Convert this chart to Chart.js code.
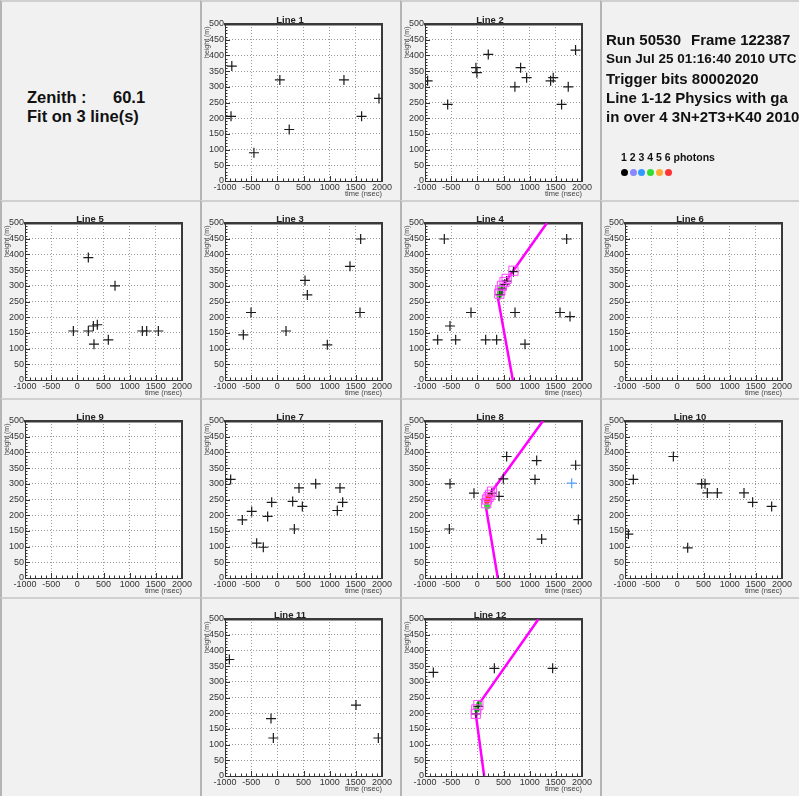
<!DOCTYPE html>
<html><head><meta charset="utf-8">
<script src="https://cdn.jsdelivr.net/npm/chart.js@4.4.0/dist/chart.umd.min.js"></script>
<style>
body{margin:0;background:#fff;width:799px;height:796px;position:relative;overflow:hidden;font-family:"Liberation Sans",Arial,sans-serif;}
.cell{position:absolute;background:#f1f1f1;box-sizing:border-box;border-left:2px solid #b4b4b4;border-top:2px solid #d0d0d0;}
canvas{position:absolute}
.ptitle{position:absolute;font:bold 9.5px "Liberation Sans",Arial,sans-serif;color:#222;transform:translateX(-50%);white-space:nowrap;}
.ytitle{position:absolute;font:7px "Liberation Sans",Arial,sans-serif;color:#444;transform-origin:0 0;transform:rotate(-90deg);white-space:nowrap;}
.xtitle{position:absolute;font:7.5px "Liberation Sans",Arial,sans-serif;color:#444;white-space:nowrap;transform:translateX(-100%);}
.big{position:absolute;font-weight:bold;color:#111;white-space:nowrap;}
.dot{position:absolute;width:7px;height:7px;border-radius:50%;}
</style></head><body>
<div id="root"></div>
<script>
// ---------- data (time in nsec, height in m) ----------
const xTicks = [-1000, -500, 0, 500, 1000, 1500, 2000];
const yTicks = [0, 50, 100, 150, 200, 250, 300, 350, 400, 450, 500];

const line1Time   = [-870, -885, -447, 48, 227, 1273, 1610, 1942];
const line1Height = [366, 206, 90, 322, 164, 322, 206, 263];

const line2Time   = [-950, -567, -27, -8, 209, 718, 827, 942, 1400, 1450, 1610, 1737, 1877];
const line2Height = [319, 244, 361, 345, 403, 300, 361, 329, 319, 329, 244, 300, 417];

const line5Time   = [210, 720, -76, 210, 306, 382, 318, 592, 1242, 1325, 1548];
const line5Height = [390, 300, 156, 156, 172, 176, 114, 128, 156, 156, 156];

const line3Time   = [1592, 1388, 529, 573, -503, -650, 166, 955, 1580];
const line3Height = [449, 362, 317, 271, 215, 144, 156, 112, 215];

const line4Time   = [-631, 1707, -758, -522, -414, -121, 159, 369, 720, 911, 1580, 1771, 430, 470, 520, 560, 690];
const line4Height = [449, 449, 128, 172, 128, 215, 128, 128, 215, 114, 215, 202, 272, 290, 305, 315, 345];
const line4SquareTime   = [420, 440, 470, 520, 560, 690];
const line4SquareHeight = [275, 285, 300, 312, 322, 348];
const line4GreenTime    = [425, 440, 455];
const line4GreenHeight  = [270, 282, 292];
const line4FitTime   = [678, 392, 402, 450, 1330];
const line4FitHeight = [0, 262, 279, 292, 500];

const line6Time = [];
const line6Height = [];

const line9Time = [];
const line9Height = [];

const line7Time   = [-892, -669, -490, -395, -268, -185, -108, 293, 325, 414, 478, 733, 1197, 1146, 1248];
const line7Height = [314, 185, 212, 111, 98, 196, 241, 244, 156, 287, 228, 300, 287, 215, 241];

const line8Time   = [-522, -535, -64, 560, 1134, 1879, 1930, 1229, 1102, 496, 414, 273];
const line8Height = [300, 156, 270, 387, 374, 359, 186, 124, 314, 316, 260, 270];
const line8BlueTime   = [1803];
const line8BlueHeight = [302];
const line8SquareTime   = [170, 185, 215, 245, 280];
const line8SquareHeight = [238, 250, 258, 265, 275];
const line8RedTime    = [185, 205, 225, 250];
const line8RedHeight  = [245, 252, 258, 265];
const line8GreenTime  = [190];
const line8GreenHeight = [228];
const line8FitTime   = [391, 160, 165, 200, 1253];
const line8FitHeight = [0, 230, 248, 258, 500];

const line10Time   = [-936, -841, -76, 198, 465, 529, 573, 764, 1274, 1439, 1802];
const line10Height = [140, 314, 387, 96, 300, 300, 271, 271, 271, 241, 228];

const line11Time   = [-917, -121, -76, 1503, 1930];
const line11Height = [371, 183, 121, 226, 121];

const line12Time   = [-841, 325, 1439, -27, 15];
const line12Height = [330, 343, 343, 198, 222];
const line12SquareTime   = [-30, -20, 20];
const line12SquareHeight = [198, 212, 226];
const line12GreenTime    = [-10, 30];
const line12GreenHeight  = [212, 228];
const line12FitTime   = [130, -25, -20, 30, 1170];
const line12FitHeight = [0, 192, 210, 229, 500];

// ---------- layout ----------
const colX = [0, 200, 400, 600];
const rowY = [0, 200, 398, 597];
const rowH = [200, 198, 199, 199];
const plotTop = [24, 223, 421, 619];

const root = document.getElementById('root');
for (let r = 0; r < 4; r++) for (let c = 0; c < 4; c++) {
  const d = document.createElement('div');
  d.className = 'cell';
  d.style.left = colX[c] + 'px'; d.style.top = rowY[r] + 'px';
  d.style.width = (c === 3 ? 199 : 200) + 'px'; d.style.height = rowH[r] + 'px';
  root.appendChild(d);
}

function pts(t, h) { return t.map((v, i) => ({x: v, y: h[i]})); }

const framePlugin = {
  id: 'frame',
  beforeDraw(chart) {
    const {ctx, chartArea: a} = chart;
    ctx.save(); ctx.fillStyle = '#fff'; ctx.fillRect(a.left, a.top, a.width, a.height); ctx.restore();
  },
  afterDraw(chart) {
    const {ctx, chartArea: a, scales} = chart;
    ctx.save(); ctx.strokeStyle = '#333'; ctx.lineWidth = 1;
    ctx.beginPath();
    for (let v = -1000; v <= 2000; v += 100) {
      const p = Math.round(scales.x.getPixelForValue(v)) + 0.5;
      const len = v % 500 === 0 ? 5 : 2.5;
      ctx.moveTo(p, a.bottom); ctx.lineTo(p, a.bottom - len);
    }
    for (let v = 0; v <= 500; v += 10) {
      const p = Math.round(scales.y.getPixelForValue(v)) + 0.5;
      const len = v % 50 === 0 ? 5 : 2.5;
      ctx.moveTo(a.left, p); ctx.lineTo(a.left + len, p);
    }
    ctx.stroke(); ctx.restore();
  }
};

function makePanel(name, r, c, datasets) {
  const cv = document.createElement('canvas');
  const top = plotTop[r] - 24;
  cv.width = 200; cv.height = 200;
  cv.style.left = colX[c] + 'px'; cv.style.top = top + 'px';
  cv.style.width = '200px'; cv.style.height = '200px';
  root.appendChild(cv);
  const t = document.createElement('div'); t.className = 'ptitle'; t.textContent = name;
  t.style.left = (colX[c] + 90) + 'px'; t.style.top = (plotTop[r] - 10) + 'px'; root.appendChild(t);
  const yt = document.createElement('div'); yt.className = 'ytitle'; yt.textContent = 'height (m)';
  yt.style.left = (colX[c] + 3) + 'px'; yt.style.top = (plotTop[r] + 34) + 'px'; root.appendChild(yt);
  const xt = document.createElement('div'); xt.className = 'xtitle'; xt.textContent = 'time (nsec)';
  xt.style.left = (colX[c] + 182) + 'px'; xt.style.top = (plotTop[r] + 165) + 'px'; root.appendChild(xt);

  const tickFont = {family: '"Liberation Sans", Arial, sans-serif', size: 9};
  new Chart(cv, {
    type: 'scatter',
    data: {datasets},
    options: {
      responsive: false, animation: false, devicePixelRatio: 1,
      layout: {padding: {top: 24, left: 0, right: 0, bottom: 0}},
      plugins: {legend: {display: false}, tooltip: {enabled: false}},
      scales: {
        x: {type: 'linear', position: 'bottom', min: -1000, max: 2000,
            afterBuildTicks: s => { s.ticks = xTicks.map(v => ({value: v})); },
            afterFit: s => { s.height = 19; },
            ticks: {font: tickFont, color: '#333', padding: 1, maxRotation: 0, autoSkip: false,
                    callback: v => String(v)},
            grid: {color: '#9a9a9a', lineWidth: 1, drawTicks: false},
            border: {display: true, color: '#333', width: 1, dash: [1, 2]}},
        y: {type: 'linear', position: 'left', min: 0, max: 500,
            afterBuildTicks: s => { s.ticks = yTicks.map(v => ({value: v})); },
            afterFit: s => { s.width = 25; },
            ticks: {font: tickFont, color: '#333', padding: 1, autoSkip: false,
                    callback: v => String(v)},
            grid: {color: '#9a9a9a', lineWidth: 1, drawTicks: false},
            border: {display: true, color: '#333', width: 1, dash: [1, 2]}},
        x2: {type: 'linear', position: 'top', min: -1000, max: 2000,
             afterFit: s => { s.height = 0; },
             ticks: {display: false}, grid: {display: false, drawTicks: false},
             border: {display: true, color: '#3a3a3a', width: 2.5}},
        y2: {type: 'linear', position: 'right', min: 0, max: 500,
             afterFit: s => { s.width = 18; },
             ticks: {display: false}, grid: {display: false, drawTicks: false},
             border: {display: true, color: '#3a3a3a', width: 2}}
      }
    },
    plugins: [framePlugin]
  });
}

function hits(t, h, color) {
  return {data: pts(t, h), pointStyle: 'cross', pointRadius: 5, borderColor: color || '#1a1a1a',
          borderWidth: 1.2, showLine: false, order: 2};
}
function fit(t, h) {
  return {type: 'line', data: pts(t, h), borderColor: '#ff00ff', borderWidth: 2.5, pointRadius: 0,
          tension: 0, fill: false, order: 5};
}
function squares(t, h) {
  return {data: pts(t, h), pointStyle: 'rect', pointRadius: 6.5, borderColor: '#ff44ff',
          backgroundColor: 'rgba(0,0,0,0)', borderWidth: 1, showLine: false, order: 1};
}
function dots(t, h, color) {
  return {data: pts(t, h), pointStyle: 'circle', pointRadius: 3, borderColor: color,
          backgroundColor: color, borderWidth: 0, showLine: false, order: 3};
}

makePanel('Line 1', 0, 1, [hits(line1Time, line1Height)]);
makePanel('Line 2', 0, 2, [hits(line2Time, line2Height)]);
makePanel('Line 5', 1, 0, [hits(line5Time, line5Height)]);
makePanel('Line 3', 1, 1, [hits(line3Time, line3Height)]);
makePanel('Line 4', 1, 2, [fit(line4FitTime, line4FitHeight), dots(line4GreenTime, line4GreenHeight, '#33dd33'),
  hits(line4Time, line4Height), squares(line4SquareTime, line4SquareHeight)]);
makePanel('Line 6', 1, 3, [hits(line6Time, line6Height)]);
makePanel('Line 9', 2, 0, [hits(line9Time, line9Height)]);
makePanel('Line 7', 2, 1, [hits(line7Time, line7Height)]);
makePanel('Line 8', 2, 2, [fit(line8FitTime, line8FitHeight), dots(line8GreenTime, line8GreenHeight, '#33dd33'),
  dots(line8RedTime, line8RedHeight, '#ff3333'), hits(line8Time, line8Height),
  hits(line8BlueTime, line8BlueHeight, '#55a0ff'), squares(line8SquareTime, line8SquareHeight)]);
makePanel('Line 10', 2, 3, [hits(line10Time, line10Height)]);
makePanel('Line 11', 3, 1, [hits(line11Time, line11Height)]);
makePanel('Line 12', 3, 2, [fit(line12FitTime, line12FitHeight), dots(line12GreenTime, line12GreenHeight, '#33dd33'),
  hits(line12Time, line12Height), squares(line12SquareTime, line12SquareHeight)]);

// ---------- text panels ----------
function txt(s, x, y, size) {
  const d = document.createElement('div'); d.className = 'big'; d.textContent = s;
  d.style.left = x + 'px'; d.style.top = y + 'px'; d.style.fontSize = size + 'px';
  root.appendChild(d);
}
txt('Zenith :', 27, 88, 16.5);
txt('60.1', 113, 88, 16.5);
txt('Fit on 3 line(s)', 27, 107, 16.5);

txt('Run 50530', 606, 31, 15);
txt('Frame 122387', 691, 31, 15);
txt('Sun Jul 25 01:16:40 2010 UTC', 606, 51, 13.5);
txt('Trigger bits 80002020', 606, 70, 15);
txt('Line 1-12 Physics with ga', 606, 89, 15);
txt('in over 4 3N+2T3+K40 2010', 606, 108, 15);
txt('1 2 3 4 5 6 photons', 621, 151, 10.5);
const photonColors = ['#000000', '#8888ff', '#3399ff', '#33dd33', '#ffaa33', '#ff3333'];
photonColors.forEach((col, i) => {
  const d = document.createElement('div'); d.className = 'dot';
  d.style.background = col; d.style.left = (621 + i * 8.7) + 'px'; d.style.top = 169 + 'px';
  root.appendChild(d);
});
</script>
</body></html>
